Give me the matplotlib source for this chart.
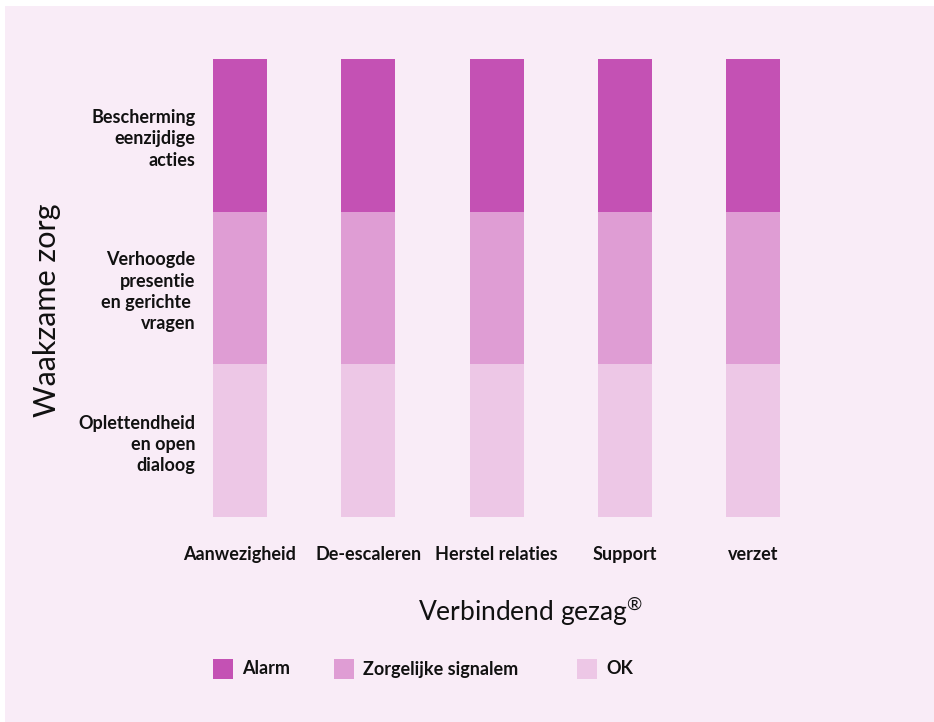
import matplotlib
matplotlib.use("Agg")
import matplotlib.pyplot as plt
from matplotlib.patches import Rectangle

# Categorieën en waarden (drie gelijke lagen per staaf)
categories = ["Aanwezigheid", "De-escaleren", "Herstel relaties", "Support", "verzet"]
ok = [1, 1, 1, 1, 1]
zorgelijk = [1, 1, 1, 1, 1]
alarm = [1, 1, 1, 1, 1]
level_labels = ["Oplettendheid\nen open\ndialoog",
                "Verhoogde\npresentie\nen gerichte \nvragen",
                "Bescherming\neenzijdige\nacties"]
series_names = ["Alarm", "Zorgelijke signalem", "OK"]

c_alarm = "#c451b4"
c_zorg = "#df9dd4"
c_ok = "#edc7e6"
bg = "#f9ecf7"
ink = "#111111"

plt.rcParams["font.family"] = ["Lato", "DejaVu Sans"]
plt.rcParams["mathtext.fontset"] = "custom"
plt.rcParams["mathtext.rm"] = "Lato"

fig = plt.figure(figsize=(9.34, 7.22), dpi=100, facecolor="white")
fig.patches.append(Rectangle((5 / 934, 0), 1, 1 - 6 / 722, transform=fig.transFigure,
                             facecolor=bg, edgecolor="none", zorder=-10))

# assen: x-pos 0..4 op pixels 240..753, y 0..3 op pixels 517..59
x0, x1 = 240, 753.25
step = (x1 - x0) / 4
left_px, right_px = 205, 850
ax = fig.add_axes([left_px / 934, 1 - 517 / 722, (right_px - left_px) / 934, (517 - 59) / 722])
ax.set_facecolor("none")
pos = list(range(len(categories)))
ax.set_xlim(-(x0 - left_px) / step, 4 + (right_px - x1) / step)
ax.set_ylim(0, 3)

w = 54 / step
bottom2 = [a + b for a, b in zip(ok, zorgelijk)]
ax.bar(pos, ok, width=w, color=c_ok)
ax.bar(pos, zorgelijk, width=w, bottom=ok, color=c_zorg)
ax.bar(pos, alarm, width=w, bottom=bottom2, color=c_alarm)

for s in ax.spines.values():
    s.set_visible(False)
ax.tick_params(length=0)
ax.set_xticks(pos)
ax.set_xticklabels(categories, fontsize=13, fontweight="bold", color=ink)
ax.tick_params(axis="x", pad=21)
ax.set_yticks([0.5, 1.5, 2.5])
ax.set_yticklabels(level_labels, fontsize=13, fontweight="bold", color=ink,
                   linespacing=1.3)
ax.tick_params(axis="y", pad=7)

fig.text(47 / 934, 1 - 310 / 722, "Waakzame zorg", rotation=90, ha="center", va="center",
         fontsize=22, color=ink)
fig.text(531 / 934, 1 - 611 / 722, r"Verbindend gezag$^{®}$", ha="center", va="center",
         fontsize=19, color=ink)

# legenda: vierkantjes met tekst
leg_colors = [c_alarm, c_zorg, c_ok]
leg_x = [213, 334, 577]
for name, col, lx in zip(series_names, leg_colors, leg_x):
    fig.patches.append(Rectangle((lx / 934, 1 - 679 / 722), 20 / 934, 20 / 722,
                                 transform=fig.transFigure, facecolor=col, edgecolor="none"))
    fig.text((lx + 29) / 934, 1 - 669 / 722, name, ha="left", va="center",
             fontsize=13, fontweight="bold", color=ink)

fig.savefig("out.png", dpi=100, facecolor="white")
